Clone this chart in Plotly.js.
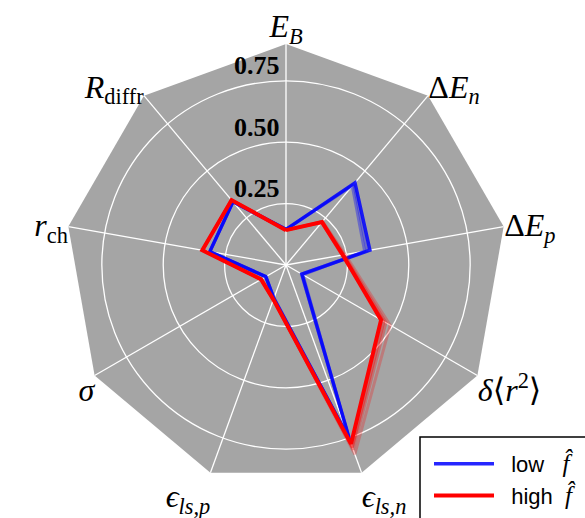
<!DOCTYPE html>
<html>
<head>
<meta charset="utf-8">
<script src="https://cdn.plot.ly/plotly-3.0.1.min.js"></script>
<style>
  html, body { margin: 0; padding: 0; background: #ffffff; }
  #chart { width: 585px; height: 518px; }
</style>
</head>
<body>
<div id="chart"></div>
<script>
// Observables on the spokes, clockwise from the top
const axes = [
  "<i>E</i><sub><i>B</i></sub>",
  "Δ<i>E</i><sub><i>n</i></sub>",
  "Δ<i>E</i><sub><i>p</i></sub>",
  "<i>δ</i>⟨<i>r</i><sup>2</sup>⟩",
  "<i>ϵ</i><sub><i>ls,n</i></sub>",
  "<i>ϵ</i><sub><i>ls,p</i></sub>",
  "<i>σ</i>",
  "<i>r</i><sub>ch</sub>",
  "<i>R</i><sub>diffr</sub>"
];

// Radial gridline values and their labels
const radialTicks = [0.25, 0.50, 0.75];
const radialTickText = ["<b>0.25</b>\u00a0", "<b>0.50</b>\u00a0", "<b>0.75</b>\u00a0"];

// Low-f̂ runs: the main curve plus the faint neighbouring runs
const lowMain = [0.145, 0.437, 0.347, 0.075, 0.760, 0.145, 0.095, 0.315, 0.336];
const lowRunA = [0.145, 0.420, 0.325, 0.080, 0.750, 0.145, 0.095, 0.315, 0.336];
const lowRunB = [0.145, 0.430, 0.335, 0.072, 0.755, 0.142, 0.095, 0.315, 0.336];

// High-f̂ runs
const highMain = [0.142, 0.228, 0.235, 0.447, 0.775, 0.150, 0.117, 0.346, 0.345];
const highRunA = [0.142, 0.232, 0.245, 0.490, 0.820, 0.150, 0.117, 0.346, 0.345];
const highRunB = [0.142, 0.230, 0.240, 0.470, 0.800, 0.150, 0.117, 0.346, 0.345];
const highRunC = [0.142, 0.226, 0.232, 0.460, 0.790, 0.150, 0.117, 0.346, 0.345];

const close = a => a.concat([a[0]]);
const theta = close(axes);

function run(values, color, width, name, showlegend) {
  return {
    type: "scatterpolar",
    subplot: "polar2",
    mode: "lines",
    r: close(values),
    theta: theta,
    line: { color: color, width: width },
    name: name,
    showlegend: showlegend,
    hoverinfo: "skip"
  };
}

const fhat = "<span style=\"font-family:'Liberation Serif',serif;font-size:25px\"><i>f\u0302</i></span>";
const lead = "\u00a0\u00a0";

const traces = [
  // carries the category spokes and labels of the polygon frame
  {
    type: "scatterpolar",
    subplot: "polar",
    mode: "markers",
    r: axes.map(() => 0),
    theta: axes,
    marker: { opacity: 0 },
    showlegend: false,
    hoverinfo: "skip"
  },
  run(lowRunA, "rgba(0,0,255,0.35)", 3, "", false),
  run(lowRunB, "rgba(0,0,255,0.35)", 3, "", false),
  run(lowMain, "rgba(0,0,255,0.85)", 3.5, lead + "low\u00a0\u00a0\u00a0" + fhat, true),
  run(highRunA, "rgba(255,0,0,0.25)", 3, "", false),
  run(highRunB, "rgba(255,0,0,0.3)", 3, "", false),
  run(highRunC, "rgba(255,0,0,0.4)", 3, "", false),
  run(highMain, "rgba(255,0,0,1)", 4, lead + "high\u00a0\u00a0" + fhat, true),
  // radial value labels along the top spoke
  {
    type: "scatterpolar",
    subplot: "polar2",
    mode: "text",
    r: radialTicks,
    theta: radialTicks.map(() => axes[0]),
    text: radialTickText,
    textposition: "top left",
    textfont: { family: "Liberation Serif, serif", size: 26, color: "#000000" },
    showlegend: false,
    hoverinfo: "skip"
  }
];

const domain = { x: [65 / 585, 507 / 585], y: [32 / 518, 474 / 518] };
const rRange = [0, 0.9];

const layout = {
  width: 585,
  height: 518,
  margin: { l: 0, r: 0, t: 0, b: 0, autoexpand: false },
  paper_bgcolor: "#ffffff",
  showlegend: true,
  polar: {
    domain: domain,
    gridshape: "linear",
    bgcolor: "#a5a5a5",
    angularaxis: {
      type: "category",
      categoryorder: "array",
      categoryarray: axes,
      rotation: 90,
      direction: "clockwise",
      showline: false,
      showgrid: true,
      gridcolor: "#ffffff",
      gridwidth: 1.3,
      ticks: "",
      tickfont: { family: "Liberation Serif, DejaVu Serif, serif", size: 32, color: "#000000" }
    },
    radialaxis: {
      range: rRange,
      showgrid: false,
      showline: false,
      showticklabels: false,
      ticks: ""
    }
  },
  polar2: {
    domain: domain,
    gridshape: "circular",
    bgcolor: "rgba(0,0,0,0)",
    angularaxis: {
      type: "category",
      categoryorder: "array",
      categoryarray: axes,
      rotation: 90,
      direction: "clockwise",
      showline: false,
      showgrid: false,
      showticklabels: false,
      ticks: ""
    },
    radialaxis: {
      range: rRange,
      tickmode: "array",
      tickvals: radialTicks,
      showgrid: true,
      gridcolor: "#ffffff",
      gridwidth: 1.3,
      showline: false,
      showticklabels: false,
      ticks: ""
    }
  },
  shapes: [
    {
      type: "rect",
      xref: "paper", yref: "paper",
      x0: 420 / 585, x1: 1.05,
      y0: -0.05, y1: (518 - 437) / 518,
      line: { color: "#000000", width: 1.5 },
      fillcolor: "#ffffff",
      layer: "above"
    }
  ],
  legend: {
    x: 429 / 585,
    xanchor: "left",
    y: (518 - 443) / 518,
    yanchor: "top",
    bgcolor: "rgba(0,0,0,0)",
    borderwidth: 0,
    itemwidth: 60,
    font: { family: "Liberation Sans, Arial, sans-serif", size: 22, color: "#000000" }
  }
};

Plotly.newPlot("chart", traces, layout, { displayModeBar: false, staticPlot: true });
</script>
</body>
</html>
